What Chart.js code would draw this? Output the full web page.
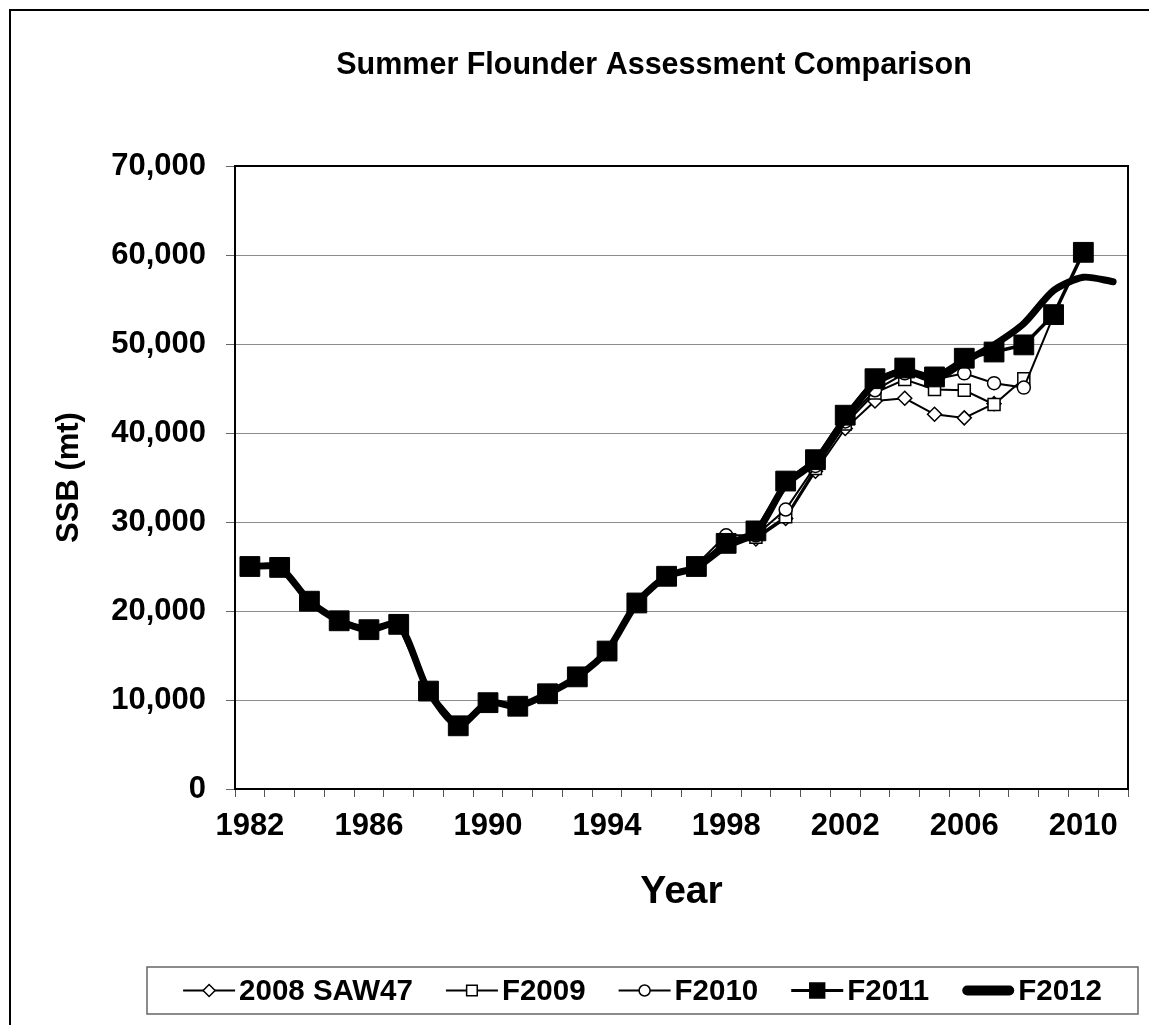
<!DOCTYPE html>
<html>
<head>
<meta charset="utf-8">
<script src="https://cdn.jsdelivr.net/npm/chart.js@4.4.0/dist/chart.umd.min.js"></script>
<style>
  html, body { margin: 0; padding: 0; background: #fff; }
  #wrap { width: 1149px; height: 1025px; }
</style>
</head>
<body>
<div id="wrap"><canvas id="chart" width="1149" height="1025"></canvas></div>
<script>

// years on the x axis
const years = ['1982','1983','1984','1985','1986','1987','1988','1989','1990','1991',
               '1992','1993','1994','1995','1996','1997','1998','1999','2000','2001',
               '2002','2003','2004','2005','2006','2007','2008','2009','2010','2011']

// SSB (mt), null where a run has no estimate
const saw47 = [25000,24900,21100,18900,17900,18500,11000,7100,9700,9300,
               10700,12600,15500,20900,23900,25000,27800,28100,30400,35700,
               40500,43600,43900,42100,41700,43300,null,null,null,null]
const f2009 = [25000,24900,21100,18900,17900,18500,11000,7100,9700,9300,
               10700,12600,15500,20900,23900,25100,27900,28300,30600,36000,
               41000,44500,46000,44900,44800,43200,46100,null,null,null]
const f2010 = [25000,24900,21100,18900,17900,18500,11000,7100,9700,9300,
               10700,12600,15500,20900,23900,25200,28500,28500,31400,36300,
               41300,44800,46700,46000,46700,45600,45100,53200,null,null]
const f2011 = [25000,24900,21100,18900,17900,18500,11000,7100,9700,9300,
               10700,12600,15500,20900,23900,25000,27600,29000,34600,37000,
               42000,46100,47300,46300,48400,49100,49900,53300,60300,null]
const f2012 = [25000,24900,21100,18900,17900,18500,11000,7100,9700,9300,
               10700,12600,15500,20900,23900,24900,27300,28800,34200,36800,
               41600,45600,47000,46000,48000,49900,52300,56000,57500,57000]

const seriesNames = ['2008 SAW47','F2009','F2010','F2011','F2012']

const FONT = '"Liberation Sans", Arial, sans-serif'

/*=============================================
LEGEND LOOK (line + marker like the original)
=============================================*/

const legendLook = [
    {lineWidth: 2, style: 'rectRot', radius: 6, fill: '#fff'},
    {lineWidth: 2, style: 'rect', radius: 7.5, fill: '#fff'},
    {lineWidth: 2, style: 'circle', radius: 5.5, fill: '#fff'},
    {lineWidth: 3, style: 'rect', radius: 10.5, fill: '#000'},
    {lineWidth: 10, style: false, radius: 0, fill: '#000'}
]

const decor = {
    id: 'decor',
    beforeDraw: (chart)=>{
        let ctx = chart.ctx
        ctx.save()
        ctx.fillStyle = '#fff'
        ctx.fillRect(0, 0, chart.width, chart.height)
        ctx.restore()
    },
    afterDraw: (chart)=>{
        let ctx = chart.ctx
        let a = chart.chartArea
        ctx.save()

        // outer frame
        ctx.strokeStyle = '#000'
        ctx.lineWidth = 2
        ctx.strokeRect(10, 10, 1300, 1200)

        // plot area top + right
        ctx.beginPath()
        ctx.moveTo(a.left, a.top)
        ctx.lineTo(a.right, a.top)
        ctx.lineTo(a.right, a.bottom)
        ctx.stroke()

        // title
        ctx.fillStyle = '#000'
        ctx.font = 'bold 30.5px ' + FONT
        ctx.textAlign = 'center'
        ctx.textBaseline = 'middle'
        ctx.fillText('Summer Flounder Assessment Comparison', 654, 66)

        // legend box
        let box = {left: 147, top: 967, right: 1138, bottom: 1014}
        ctx.strokeStyle = '#666'
        ctx.lineWidth = 1.5
        ctx.strokeRect(box.left, box.top, box.right - box.left, box.bottom - box.top)

        ctx.font = 'bold 29.5px ' + FONT
        let lineLen = 52, gapText = 4, gapItem = 33
        let total = 0
        seriesNames.forEach((n, i)=>{
            total += lineLen + gapText + ctx.measureText(n).width
            if (i < seriesNames.length - 1) total += gapItem
        })
        let x = (box.left + box.right) / 2 - total / 2
        let y = (box.top + box.bottom) / 2

        seriesNames.forEach((n, i)=>{
            let lk = legendLook[i]
            ctx.strokeStyle = '#000'
            ctx.lineWidth = lk.lineWidth
            ctx.lineCap = i == 4 ? 'round' : 'butt'
            ctx.beginPath()
            ctx.moveTo(x + (i == 4 ? 5 : 0), y)
            ctx.lineTo(x + lineLen - (i == 4 ? 5 : 0), y)
            ctx.stroke()
            if (lk.style) {
                ctx.fillStyle = lk.fill
                ctx.strokeStyle = '#000'
                ctx.lineWidth = 1.5
                Chart.helpers.drawPoint(ctx, {pointStyle: lk.style, radius: lk.radius, borderWidth: 1.5, rotation: 0}, x + lineLen / 2, y)
            }
            ctx.fillStyle = '#000'
            ctx.textAlign = 'left'
            ctx.textBaseline = 'middle'
            ctx.fillText(n, x + lineLen + gapText, y + 1)
            x += lineLen + gapText + ctx.measureText(n).width + gapItem
        })

        ctx.restore()
    }
}

let config = {
    type: 'line',
    data: {
        labels: years,
        datasets: [{
            label: seriesNames[0],
            data: saw47,
            order: 4,
            borderColor: '#000',
            borderWidth: 2,
            pointStyle: 'rectRot',
            pointRadius: 7,
            pointBorderWidth: 1.5,
            pointBackgroundColor: '#fff',
            pointBorderColor: '#000',
            tension: 0
        },{
            label: seriesNames[1],
            data: f2009,
            order: 3,
            borderColor: '#000',
            borderWidth: 2,
            pointStyle: 'rect',
            pointRadius: 8.5,
            pointBorderWidth: 1.5,
            pointBackgroundColor: '#fff',
            pointBorderColor: '#000',
            tension: 0
        },{
            label: seriesNames[2],
            data: f2010,
            order: 2,
            borderColor: '#000',
            borderWidth: 2,
            pointStyle: 'circle',
            pointRadius: 6.5,
            pointBorderWidth: 1.5,
            pointBackgroundColor: '#fff',
            pointBorderColor: '#000',
            tension: 0
        },{
            label: seriesNames[3],
            data: f2011,
            order: 1,
            borderColor: '#000',
            borderWidth: 3.5,
            pointStyle: 'rect',
            pointRadius: 14,
            pointBorderWidth: 1,
            pointBackgroundColor: '#000',
            pointBorderColor: '#000',
            tension: 0
        },{
            label: seriesNames[4],
            data: f2012,
            order: 0,
            borderColor: '#000',
            borderWidth: 7,
            borderCapStyle: 'round',
            borderJoinStyle: 'round',
            pointRadius: 0,
            tension: 0.25
        }]
    },
    options: {
        responsive: false,
        animation: false,
        devicePixelRatio: 1,
        spanGaps: false,
        layout: {
            padding: {top: 166, left: 10, right: 21, bottom: 86}
        },
        plugins: {
            legend: {display: false},
            title: {display: false},
            tooltip: {enabled: false}
        },
        scales: {
            x: {
                type: 'category',
                offset: true,
                afterFit: (s)=>{ s.height = 150 },
                grid: {
                    offset: true,
                    drawOnChartArea: false,
                    drawTicks: true,
                    tickLength: 8,
                    tickColor: '#555',
                    lineWidth: 1
                },
                border: {color: '#000', width: 2},
                ticks: {
                    autoSkip: false,
                    maxRotation: 0,
                    padding: 11,
                    color: '#000',
                    font: {family: FONT, size: 31, weight: 'bold'},
                    callback: function(v, i){
                        return i % 4 == 0 ? years[i] : ''
                    }
                },
                title: {
                    display: true,
                    text: 'Year',
                    color: '#000',
                    font: {family: FONT, size: 39, weight: 'bold'},
                    padding: {top: 0, bottom: 23}
                }
            },
            y: {
                min: 0,
                max: 70000,
                afterFit: (s)=>{ s.width = 225 },
                grid: {
                    color: '#8c8c8c',
                    lineWidth: 1,
                    drawTicks: true,
                    tickLength: 9,
                    tickColor: '#666'
                },
                border: {color: '#000', width: 2},
                ticks: {
                    stepSize: 10000,
                    padding: 20,
                    color: '#000',
                    font: {family: FONT, size: 31, weight: 'bold'},
                    callback: (v)=> v.toLocaleString('en-US')
                },
                title: {
                    display: true,
                    text: 'SSB (mt)',
                    color: '#000',
                    font: {family: FONT, size: 31, weight: 'bold'},
                    padding: {top: 41, bottom: 0}
                }
            }
        }
    },
    plugins: [decor]
}

let ctx = document.getElementById('chart').getContext('2d')
window.ssbChart = new Chart(ctx, config)

</script>
</body>
</html>
